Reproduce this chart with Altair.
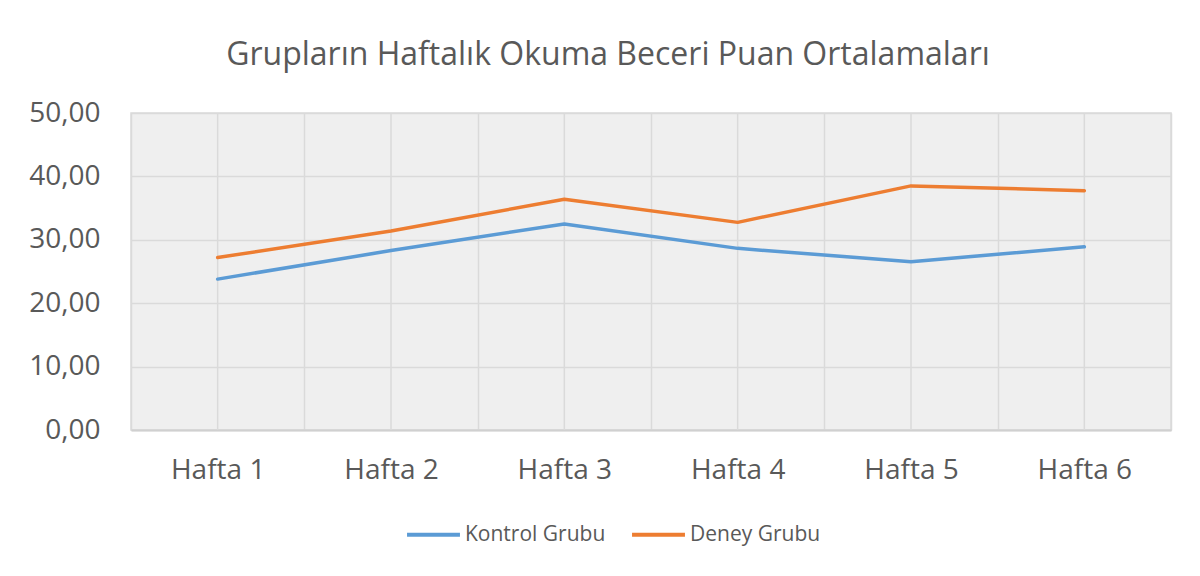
import altair as alt
import pandas as pd

weeks = ["Hafta 1", "Hafta 2", "Hafta 3", "Hafta 4", "Hafta 5", "Hafta 6"]
kontrol = [23.8, 28.3, 32.5, 28.65, 26.55, 28.9]
deney = [27.2, 31.4, 36.4, 32.75, 38.5, 37.75]
series = ["Kontrol Grubu", "Deney Grubu"]
colors = ["#5B9BD5", "#ED7D31"]
y_ticks = [0, 10, 20, 30, 40, 50]

rows = []
for name, vals in zip(series, [kontrol, deney]):
    for w, v in zip(weeks, vals):
        rows.append({"week": w, "value": v, "series": name})
df = pd.DataFrame(rows)
weeks_df = pd.DataFrame({"week": weeks})

FONT = "Open Sans"
TXT = "#595959"
GRID = "#DADADA"

x_enc = alt.X(
    "week:N",
    sort=weeks,
    bandPosition=0.5,
    scale=alt.Scale(type="band", paddingInner=0, paddingOuter=0),
    axis=alt.Axis(
        title=None,
        labelAngle=0,
        tickBand="extent",
        grid=True,
        gridColor=GRID,
        gridWidth=1.5,
        ticks=False,
        domain=True,
        domainColor="#D0D0D0",
        domainWidth=2,
        labelFont=FONT,
        labelFontSize=28,
        labelColor=TXT,
        labelPadding=26,
    ),
)

y_scale = alt.Scale(domain=[0, 50], nice=False)
y_axis = alt.Axis(
    title=None,
    values=y_ticks,
    labelExpr="replace(format(datum.value, '.2f'), '.', ',')",
    grid=True,
    gridColor=GRID,
    gridWidth=1.5,
    ticks=False,
    domain=False,
    labelFont=FONT,
    labelFontSize=28,
    labelColor=TXT,
    labelPadding=31,
)

center_rules = alt.Chart(weeks_df).mark_rule(color=GRID, strokeWidth=1.5).encode(
    x=x_enc,
    y=alt.Y(datum=0, scale=y_scale, axis=y_axis),
    y2=alt.Y2(datum=50),
)

lines = alt.Chart(df).mark_line(strokeWidth=3.5, strokeCap="round", strokeJoin="round").encode(
    x=x_enc,
    y=alt.Y("value:Q", scale=y_scale, axis=y_axis),
    color=alt.Color(
        "series:N",
        sort=series,
        scale=alt.Scale(domain=series, range=colors),
        legend=alt.Legend(
            title=None,
            orient="none",
            legendX=274,
            legendY=393,
            direction="horizontal",
            symbolType="stroke",
            symbolSize=2800,
            symbolStrokeWidth=4,
            labelFont=FONT,
            labelFontSize=21,
            labelColor=TXT,
            labelOffset=3,
            labelLimit=300,
            columnPadding=18,
        ),
    ),
)

chart = (
    alt.layer(center_rules, lines)
    .properties(
        width=1040,
        height=317,
        background="white",
        title=alt.TitleParams(
            "Grupların Haftalık Okuma Beceri Puan Ortalamaları",
            font=FONT,
            fontSize=32,
            fontWeight="normal",
            color=TXT,
            anchor="middle",
            offset=27,
            dx=-43,
        ),
        autosize=alt.AutoSizeParams(type="none"),
        padding={"left": 123, "top": 105, "right": 20, "bottom": 130},
    )
    .configure_view(fill="#EFEFEF", stroke=GRID, strokeWidth=1.5)
)

chart.save("out.html", embed_options={"renderer": "svg", "actions": False})
